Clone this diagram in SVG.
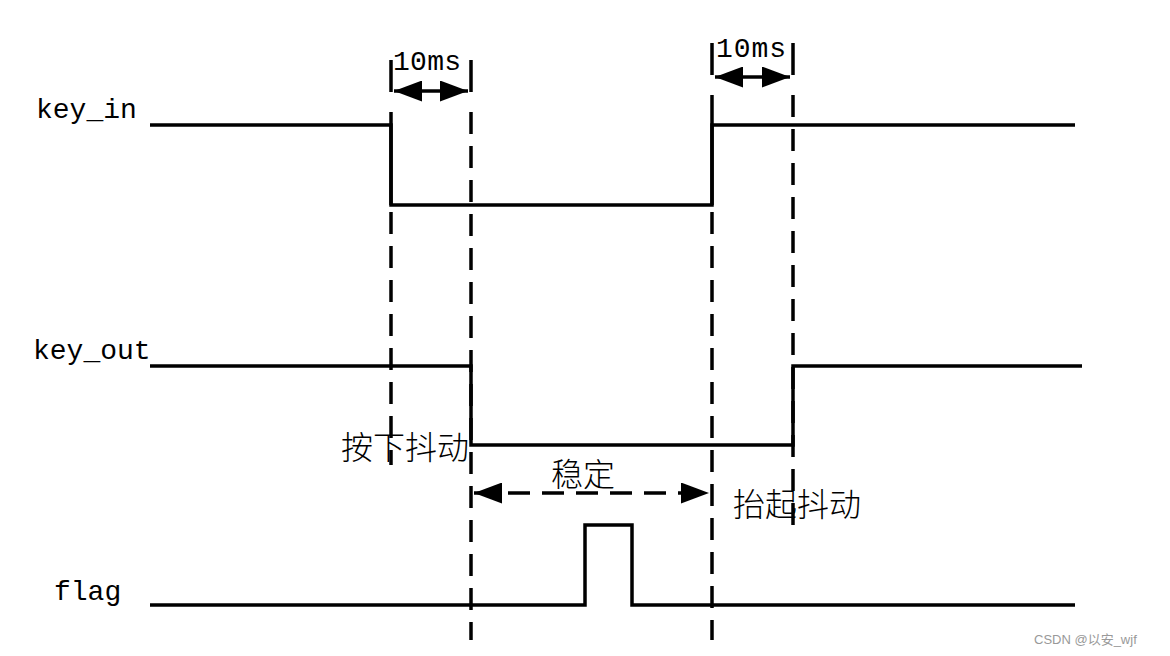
<svg xmlns="http://www.w3.org/2000/svg" width="1170" height="656" viewBox="0 0 1170 656">
<style>
.s{fill:none;stroke:#000;stroke-width:3.5}
.d{fill:none;stroke:#000;stroke-width:3.5;stroke-dasharray:22 12}
.t{font-family:"Liberation Mono","Noto Sans CJK SC",monospace;font-size:28px;fill:#000}
.c{font-family:"Noto Sans CJK SC",sans-serif;font-size:32px;font-weight:300;fill:#000}
</style>
<defs>
<marker id="a" viewBox="0 0 10 10" refX="10" refY="5" markerWidth="8" markerHeight="6" orient="auto-start-reverse" markerUnits="strokeWidth" preserveAspectRatio="none"><path d="M0,0L10,5L0,10z" fill="#000"/></marker>
</defs>
<rect width="1170" height="656" fill="#fff"/>
<g id="labels">
<text class="t" x="36" y="118">key_in</text>
<text class="t" x="33" y="359">key_out</text>
<text class="t" x="54" y="600">flag</text>
<text class="t" x="393" y="70" textLength="68">10ms</text>
<text class="t" x="716" y="57" textLength="70">10ms</text>
<text class="c" x="341" y="459">按下抖动</text>
<text class="c" x="551" y="486">稳定</text>
<text class="c" x="733" y="516">抬起抖动</text>
<text x="1034" y="644" font-family="Liberation Sans,Noto Sans CJK SC,sans-serif" font-size="13" fill="#999">CSDN @以安_wjf</text>
</g>
<g id="connectors">
<path class="s" d="M150,125H391V205H712V125H1075"/>
<path class="s" d="M150,366H471V445H793V366H1082"/>
<path class="s" d="M150,605H585V525H632V605H1075"/>
<path class="s" d="M391,60V92M471,60V92M712,43V75M793,43V75M391,112V205M712,95V205"/>
<path class="d" d="M391,212V465"/>
<path class="d" d="M471,112V640"/>
<path class="d" d="M712,212V640"/>
<path class="d" d="M793,95V535"/>
<line class="s" x1="394" y1="91" x2="468" y2="91" marker-start="url(#a)" marker-end="url(#a)"/>
<line class="s" x1="715" y1="77" x2="790" y2="77" marker-start="url(#a)" marker-end="url(#a)"/>
<line class="d" x1="474" y1="493" x2="709" y2="493" marker-start="url(#a)" marker-end="url(#a)"/>
</g>
</svg>
